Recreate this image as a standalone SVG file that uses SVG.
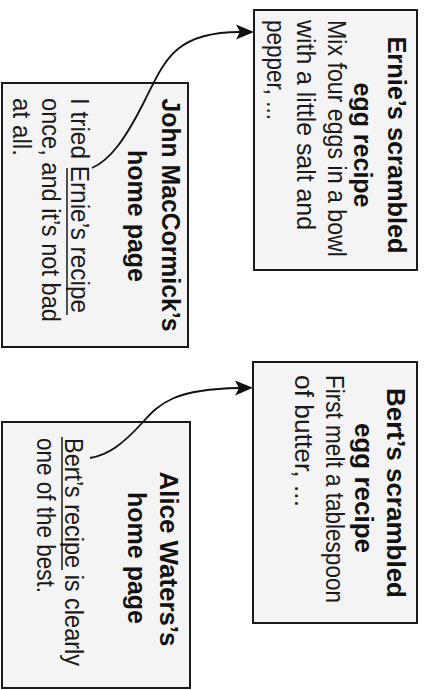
<svg xmlns="http://www.w3.org/2000/svg" width="428" height="690" viewBox="0 0 428 690">
  <style>
    .page { fill: #f4f4f4; stroke: #1a1a1a; stroke-width: 2; }
    .title { font-family: "Liberation Sans", Arial, sans-serif; font-weight: bold; font-size: 26px; fill: #111; text-anchor: middle; }
    .body { font-family: "Liberation Sans", Arial, sans-serif; font-size: 26px; fill: #1a1a1a; }
    .ul { stroke: #1a1a1a; stroke-width: 1.5; }
    .link { fill: none; stroke: #111; stroke-width: 1.8; }
  </style>
  <defs>
    <marker id="head" markerUnits="userSpaceOnUse" markerWidth="24" markerHeight="20" viewBox="-6 -10 24 20" refX="0" refY="0" orient="auto">
      <path d="M14,0 L-4,-7.5 L0,0 L-4,7.5 Z" fill="#111"/>
    </marker>
  </defs>
  <rect width="428" height="690" fill="#ffffff"/>

  <!-- Ernie's recipe page -->
  <g id="ernie-recipe">
    <rect class="page" x="254" y="10" width="163" height="260"/>
    <g transform="rotate(90)">
      <text class="title" x="145" y="-388" textLength="217" lengthAdjust="spacingAndGlyphs">Ernie’s scrambled</text>
      <text class="title" x="145" y="-354" textLength="125" lengthAdjust="spacingAndGlyphs">egg recipe</text>
      <text class="body" x="20" y="-328" textLength="237" lengthAdjust="spacingAndGlyphs">Mix four eggs in a bowl</text>
      <text class="body" x="20" y="-297" textLength="210" lengthAdjust="spacingAndGlyphs">with a little salt and</text>
      <text class="body" x="20" y="-267" textLength="100" lengthAdjust="spacingAndGlyphs">pepper, ...</text>
    </g>
  </g>

  <!-- John MacCormick's home page -->
  <g id="john-home">
    <rect class="page" x="2" y="83" width="186" height="264"/>
    <g transform="rotate(90)">
      <text class="title" x="215" y="-162" textLength="233" lengthAdjust="spacingAndGlyphs">John MacCormick’s</text>
      <text class="title" x="216" y="-128" textLength="132" lengthAdjust="spacingAndGlyphs">home page</text>
      <text class="body" x="98" y="-71" textLength="215" lengthAdjust="spacingAndGlyphs">I tried Ernie’s recipe</text>
      <text class="body" x="98" y="-42" textLength="224" lengthAdjust="spacingAndGlyphs">once, and it’s not bad</text>
      <text class="body" x="98" y="-13" textLength="58" lengthAdjust="spacingAndGlyphs">at all.</text>
    </g>
    <line class="ul" x1="67" y1="168" x2="67" y2="315"/>
  </g>

  <!-- Bert's recipe page -->
  <g id="bert-recipe">
    <rect class="page" x="253" y="362" width="164" height="261"/>
    <g transform="rotate(90)">
      <text class="title" x="493" y="-387" textLength="210" lengthAdjust="spacingAndGlyphs">Bert’s scrambled</text>
      <text class="title" x="488" y="-355" textLength="130" lengthAdjust="spacingAndGlyphs">egg recipe</text>
      <text class="body" x="375" y="-326" textLength="228" lengthAdjust="spacingAndGlyphs">First melt a tablespoon</text>
      <text class="body" x="375" y="-295" textLength="132" lengthAdjust="spacingAndGlyphs">of butter, ...</text>
    </g>
  </g>

  <!-- Alice Waters's home page -->
  <g id="alice-home">
    <rect class="page" x="2" y="422" width="188" height="266"/>
    <g transform="rotate(90)">
      <text class="title" x="559" y="-160" textLength="175" lengthAdjust="spacingAndGlyphs">Alice Waters’s</text>
      <text class="title" x="558" y="-128" textLength="132" lengthAdjust="spacingAndGlyphs">home page</text>
      <text class="body" x="438" y="-65" textLength="228" lengthAdjust="spacingAndGlyphs">Bert’s recipe is clearly</text>
      <text class="body" x="438" y="-37" textLength="155" lengthAdjust="spacingAndGlyphs">one of the best.</text>
    </g>
    <line class="ul" x1="62" y1="437" x2="62" y2="570"/>
  </g>

  <!-- hyperlinks -->
  <g id="links">
    <path class="link" d="M92,168 C110,160 125,140 145,100 C165,60 175,32 240,32" marker-end="url(#head)"/>
    <path class="link" d="M90,458 C108,455 122,445 143,422 C160,403 175,389 239,388" marker-end="url(#head)"/>
  </g>
</svg>
